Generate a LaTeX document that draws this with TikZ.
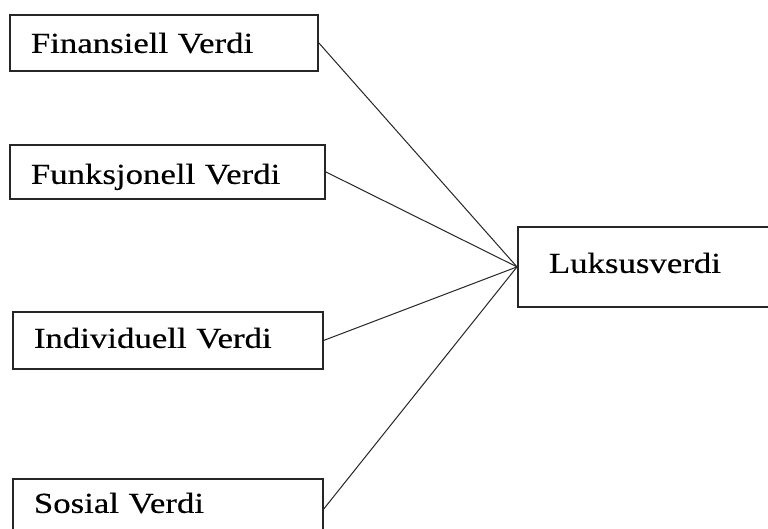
\documentclass[tikz,border=0pt]{standalone}
\usepackage{fontspec}
\setmainfont{Liberation Serif}[FakeStretch=1.2, FakeBold=0.4]
\begin{document}
\begin{tikzpicture}[x=1pt,y=-1pt,
  box/.style={draw=black!85, line width=1.8pt, rectangle, anchor=north west,
    inner ysep=0pt, align=left, font=\fontsize{29pt}{34pt}\selectfont, text=black},
  link/.style={draw=black!85, line width=1pt}]
\useasboundingbox (0,0) rectangle (768,529);
\clip (0,0) rectangle (768,529);
\fill[white] (0,0) rectangle (768,529);
\node[box, inner xsep=21pt, text width=266pt, text height=38pt, text depth=18pt] (b1) at (9,14) {Finansiell Verdi};
\node[box, inner xsep=21pt, text width=273pt, text height=39pt, text depth=15pt] (b2) at (9,144) {Funksjonell Verdi};
\node[box, inner xsep=21pt, text width=268pt, text height=36pt, text depth=21pt] (b3) at (12,311) {Individuell Verdi};
\node[box, inner xsep=21pt, text width=268pt, text height=34pt, text depth=26pt] (b4) at (12,478) {Sosial Verdi};
\node[box, inner xsep=31pt, text width=238pt, text height=46pt, text depth=34pt] (b5) at (517,226) {Luksusverdi};
\draw[link] (b1.east) -- (b5.west);
\draw[link] (b2.east) -- (b5.west);
\draw[link] (b3.east) -- (b5.west);
\draw[link] (b4.east) -- (b5.west);
\end{tikzpicture}
\end{document}
